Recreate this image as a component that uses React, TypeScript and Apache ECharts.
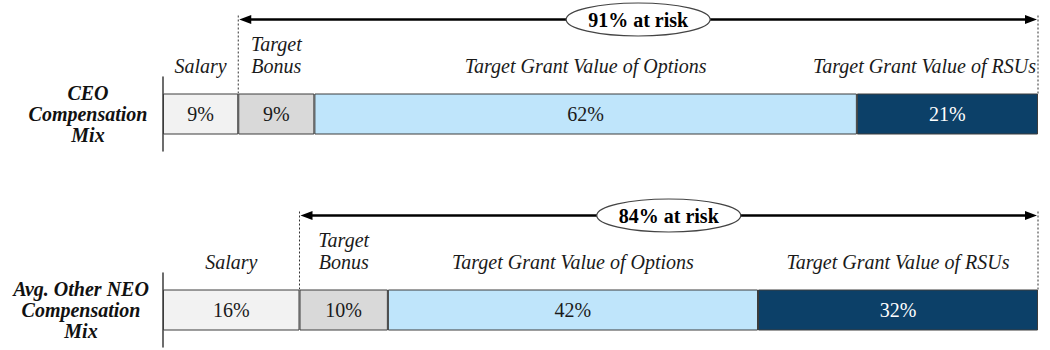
import React, { useEffect, useRef } from "react";
import * as echarts from "echarts";

const segmentNames = ["Salary", "Target\nBonus", "Target Grant Value of Options", "Target Grant Value of RSUs"];
const segmentColors = ["#f2f2f2", "#d9d9d9", "#bfe5fb", "#0c4068"];
const percentColors = ["#1a1a1a", "#1a1a1a", "#1a1a1a", "#ffffff"];
const rowNames = ["CEO\nCompensation\nMix", "Avg. Other NEO\nCompensation\nMix"];
const ceoValues = [8.6, 8.7, 62.0, 20.7];
const neoValues = [15.6, 10.1, 42.3, 32.0];
const atRiskLabels = ["91% at risk", "84% at risk"];

const FONT = "Liberation Serif";

export default function App() {
  const ref = useRef<HTMLDivElement>(null);

  useEffect(() => {
    if (!ref.current) return;
    const chart = echarts.init(ref.current, undefined, { renderer: "svg" });
    const rows = [ceoValues, neoValues];
    const gridTops = [77, 273];
    const labelMargins = [75, 82];

    const series: any[] = [];
    rows.forEach((vals, r) => {
      vals.forEach((v, i) => {
        series.push({
          type: "bar",
          name: segmentNames[i] + " " + r,
          xAxisIndex: r,
          yAxisIndex: r,
          stack: "main" + r,
          barWidth: 41,
          barGap: "-100%",
          silent: true,
          data: [v],
          itemStyle: { color: segmentColors[i], borderColor: "#3c3c3c", borderWidth: 1 },
          label: {
            show: true,
            position: "inside",
            formatter: Math.round(v) + "%",
            color: percentColors[i],
            fontSize: 20,
            fontFamily: FONT,
          },
        });
        series.push({
          type: "bar",
          name: "name " + segmentNames[i] + " " + r,
          xAxisIndex: r,
          yAxisIndex: r,
          stack: "names" + r,
          barWidth: 41,
          barGap: "-100%",
          silent: true,
          data: [v],
          itemStyle: { color: "rgba(0,0,0,0)" },
          label: {
            show: true,
            position: "top",
            distance: 17,
            offset: r === 0 && i === 3 ? [-23, 0] : [0, 0],
            formatter: segmentNames[i],
            color: "#1a1a1a",
            fontStyle: "italic",
            fontSize: 20,
            lineHeight: 22,
            fontFamily: FONT,
          },
        });
      });
    });

    chart.setOption({
      animation: false,
      grid: rows.map((_, r) => ({ left: 163, right: 12, top: gridTops[r], height: 74 })),
      xAxis: rows.map((vals, r) => ({
        type: "value",
        gridIndex: r,
        min: 0,
        max: vals.reduce((a, b) => a + b, 0),
        show: false,
      })),
      yAxis: rows.map((_, r) => ({
        type: "category",
        gridIndex: r,
        data: [rowNames[r]],
        axisLine: { show: true, lineStyle: { color: "#3c3c3c", width: 1.5 } },
        axisTick: { show: false },
        splitLine: { show: false },
        axisLabel: {
          margin: labelMargins[r],
          align: "center",
          color: "#111",
          fontStyle: "italic",
          fontWeight: "bold",
          fontSize: 20,
          lineHeight: 21,
          fontFamily: FONT,
        },
      })),
      series,
    });

    const graphics: any[] = [];
    rows.forEach((vals, r) => {
      const total = vals.reduce((a, b) => a + b, 0);
      const xL = chart.convertToPixel({ xAxisIndex: r } as any, vals[0]) as number;
      const xR = chart.convertToPixel({ xAxisIndex: r } as any, total) as number;
      const yC = chart.convertToPixel({ yAxisIndex: r } as any, rowNames[r]) as number;
      const barTop = yC - 20.5;
      const ay = yC - 94.5;
      [xL, xR].forEach((x) => {
        graphics.push({
          type: "line",
          shape: { x1: x, y1: ay - 4, x2: x, y2: barTop },
          style: { stroke: "#333", lineWidth: 1, lineDash: [2, 2] },
          z: 10,
        });
      });
      graphics.push({
        type: "line",
        shape: { x1: xL + 8, y1: ay, x2: xR - 8, y2: ay },
        style: { stroke: "#000", lineWidth: 2.5 },
        z: 10,
      });
      graphics.push({
        type: "polygon",
        shape: { points: [[xL + 1, ay], [xL + 13, ay - 4.5], [xL + 13, ay + 4.5]] },
        style: { fill: "#000" },
        z: 10,
      });
      graphics.push({
        type: "polygon",
        shape: { points: [[xR - 1, ay], [xR - 13, ay - 4.5], [xR - 13, ay + 4.5]] },
        style: { fill: "#000" },
        z: 10,
      });
      const cx = (xL + xR) / 2;
      graphics.push({
        type: "ellipse",
        shape: { cx, cy: ay, rx: 72, ry: 16.5 },
        style: { fill: "#fff", stroke: "#444", lineWidth: 1.2 },
        z: 11,
      });
      graphics.push({
        type: "text",
        x: cx,
        y: ay,
        style: {
          text: atRiskLabels[r],
          x: 0,
          y: 0,
          align: "center",
          verticalAlign: "middle",
          fontSize: 20,
          fontWeight: "bold",
          fontFamily: FONT,
          fill: "#000",
        },
        z: 12,
      });
    });
    chart.setOption({ graphic: graphics });

    return () => chart.dispose();
  }, []);

  return (
    <div
      ref={ref}
      style={{ position: "absolute", left: 0, top: 0, width: 1050, height: 350, background: "#fff" }}
    />
  );
}
